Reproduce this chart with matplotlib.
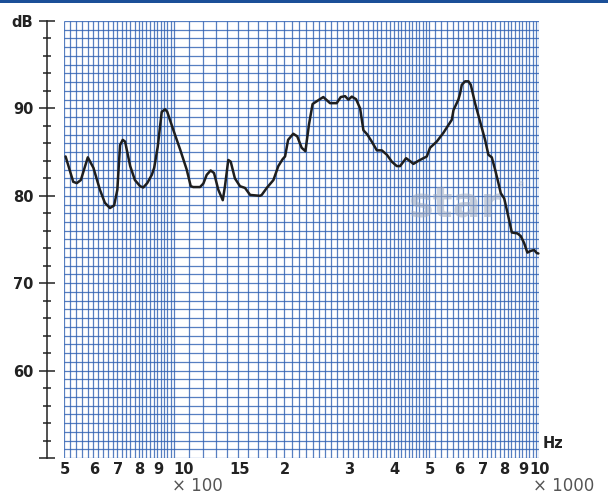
import numpy as np
import matplotlib
matplotlib.use("Agg")
import matplotlib.pyplot as plt
import matplotlib.transforms as mtrans
from matplotlib.patches import Rectangle
from matplotlib.ticker import FixedLocator

# ---- data ----
freq_hz = [505, 530, 542, 556, 581, 602, 627, 647, 668, 686, 700, 712, 724, 735,
           759, 782, 808, 824, 845, 870, 883, 903, 926, 946, 959, 997, 1040, 1084,
           1112, 1130, 1179, 1204, 1230, 1261, 1288, 1323, 1361, 1380, 1409, 1431,
           1469, 1517, 1566, 1617, 1722, 1740, 1796, 1873, 1932, 1986, 2016, 2055,
           2123, 2177, 2238, 2292, 2345, 2398, 2510, 2566, 2677, 2792, 2864, 2944,
           3006, 3071, 3155, 3236, 3304, 3388, 3483, 3596, 3711, 3830, 3953, 4079,
           4164, 4252, 4325, 4456, 4529, 4673, 4822, 4928, 5031, 5247, 5471, 5648,
           5770, 5831, 6013, 6079, 6145, 6275, 6407, 6504, 6681, 6896, 7117, 7267,
           7425, 7582, 7742, 7857, 8030, 8244, 8426, 8725, 8910, 9103, 9293, 9496,
           9697, 9861, 9961]
level_db = [84.5, 81.6, 81.45, 81.8, 84.4, 83.2, 80.7, 79.2, 78.6, 78.9, 80.7, 85.8,
            86.4, 86.2, 83.4, 81.8, 81.1, 80.95, 81.45, 82.4, 83.2, 85.6, 89.6, 89.9,
            89.6, 87.5, 85.3, 83.0, 81.1, 81.0, 81.0, 81.4, 82.4, 82.9, 82.6, 80.7,
            79.5, 81.1, 84.1, 83.9, 82.0, 81.1, 80.9, 80.1, 80.0, 80.1, 80.9, 81.8,
            83.4, 84.2, 84.5, 86.4, 87.1, 86.8, 85.5, 85.1, 88.2, 90.5, 91.05, 91.3,
            90.6, 90.6, 91.3, 91.4, 91.0, 91.35, 91.05, 90.0, 87.5, 87.0, 86.2, 85.2,
            85.2, 84.7, 83.9, 83.4, 83.4, 83.9, 84.3, 83.9, 83.65, 84.0, 84.3, 84.5,
            85.5, 86.2, 87.2, 88.1, 88.7, 89.8, 91.0, 91.7, 92.7, 93.1, 93.1, 92.7,
            90.6, 88.5, 86.4, 84.7, 84.4, 83.0, 81.45, 80.3, 79.7, 77.6, 75.8, 75.7,
            75.4, 74.6, 73.5, 73.7, 73.8, 73.45, 73.4]

x_tick_freqs = [500, 600, 700, 800, 900, 1000, 1500, 2000, 3000, 4000, 5000,
                6000, 7000, 8000, 9000, 10000]
x_tick_labels = ["5", "6", "7", "8", "9", "10", "15", "2", "3", "4", "5",
                 "6", "7", "8", "9", "10"]
y_major = [50, 60, 70, 80, 90, 100]
y_major_labels = ["", "60", "70", "80", "90", "dB"]

# ---- layout ----
W, H = 608, 494
fig = plt.figure(figsize=(W / 100, H / 100), dpi=100)
fig.patch.set_facecolor("white")

L, R, T, B = 64, 539, 21, 458
ax = fig.add_axes([L / W, 1 - B / H, (R - L) / W, (B - T) / H])
ax.set_xscale("log")
ax.set_xlim(500, 10000)
ax.set_ylim(50, 100)
for s in ax.spines.values():
    s.set_visible(False)
ax.set_xticks([])
ax.set_yticks([])
ax.xaxis.set_minor_locator(FixedLocator([]))
ax.patch.set_alpha(0)

grid_color = "#2d5fb2"
vgrid = np.concatenate([np.arange(500, 1000, 20), np.arange(1000, 5000, 100),
                        np.arange(5000, 10001, 200)])
hgrid = np.arange(50, 101, 1)
ax.vlines(vgrid, 50, 100, colors=grid_color, linewidth=0.9, alpha=0.8, zorder=1)
ax.hlines(hgrid, 500, 10000, colors=grid_color, linewidth=0.9, alpha=0.8, zorder=1)

# watermark
ax.text(455 / W, 1 - 216 / H, "star", transform=fig.transFigure, ha="center",
        va="baseline", fontsize=30, fontweight="bold", color="#9eaac0",
        alpha=0.55, zorder=2, family="DejaVu Sans")
ax.text(521 / W, 1 - 186 / H, "®", transform=fig.transFigure, ha="center",
        va="center", fontsize=6, color="#b8c0d0", alpha=0.7, zorder=2)

# curve
ax.plot(freq_hz, level_db, color="#1e1e1e", linewidth=1.8,
        solid_joinstyle="round", solid_capstyle="round", zorder=3, clip_on=False)

# x labels
tr = mtrans.blended_transform_factory(ax.transData, ax.transAxes)
for f, lab in zip(x_tick_freqs, x_tick_labels):
    ha = "left" if (lab == "10" and f == 1000) else "center"
    off = mtrans.offset_copy(tr, fig=fig, x=(-1 if ha == "left" else 1) * 0.72,
                             y=-16 * 0.72, units="points")
    ax.text(f, 0, lab, transform=off, ha=ha, va="baseline", fontsize=10.5,
            fontweight="bold", color="#222222", family="DejaVu Sans")

fig.text(543 / W, 1 - 443 / H, "Hz", ha="left", va="center", fontsize=10.5,
         fontweight="bold", color="#222222")
fig.text(172 / W, 1 - 491 / H, "× 100", ha="left", va="baseline", fontsize=12,
         color="#555555")
fig.text(533 / W, 1 - 491 / H, "× 1000", ha="left", va="baseline", fontsize=12,
         color="#555555")

# y axis
ay = fig.add_axes([46.7 / W, 1 - B / H, 0.0001, (B - T) / H])
ay.set_ylim(50, 100)
for k in ["top", "right", "bottom"]:
    ay.spines[k].set_visible(False)
ay.spines["left"].set_linewidth(1.1)
ay.spines["left"].set_color("#222222")
ay.set_xticks([])
ay.set_yticks(y_major)
ay.set_yticklabels(y_major_labels)
ay.set_yticks([v for v in range(52, 100, 2) if v % 10 != 0], minor=True)
ay.tick_params(axis="y", which="major", direction="inout", length=11.5, width=1.1,
               color="#222222", pad=4, labelsize=10.5, labelcolor="#222222")
ay.tick_params(axis="y", which="minor", direction="inout", length=5.2, width=1.1,
               color="#222222")
for t in ay.get_yticklabels():
    t.set_fontweight("bold")
ay.patch.set_alpha(0)

# top band
fig.patches.append(Rectangle((0, 1 - 2.8 / H), 1, 2.8 / H, transform=fig.transFigure,
                             facecolor="#1b4f98", edgecolor="none"))

fig.savefig("out.png", dpi=100)
